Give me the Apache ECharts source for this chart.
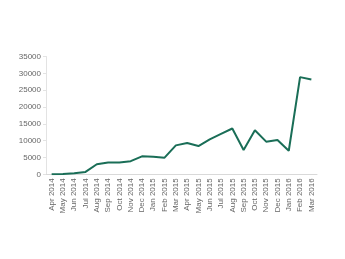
<!DOCTYPE html>
<html><head><meta charset="utf-8">
<script src="https://cdn.jsdelivr.net/npm/echarts@6/dist/echarts.min.js"></script>
<style>html,body{margin:0;padding:0;background:#fff}#c{width:345px;height:259px}</style>
</head><body><div id="c"></div>
<script>
const categories = ["Apr 2014","May 2014","Jun 2014","Jul 2014","Aug 2014","Sep 2014","Oct 2014","Nov 2014","Dec 2014","Jan 2015","Feb 2015","Mar 2015","Apr 2015","May 2015","Jun 2015","Jul 2015","Aug 2015","Sep 2015","Oct 2015","Nov 2015","Dec 2015","Jan 2016","Feb 2016","Mar 2016"];
const values = [50,100,300,700,3000,3500,3500,3900,5350,5250,4950,8600,9300,8400,10400,12000,13600,7200,13100,9700,10200,7000,28870,28150];
const yTicks = [0,5000,10000,15000,20000,25000,30000,35000];
const chart = echarts.init(document.getElementById('c'), null, {renderer:'canvas'});
chart.setOption({
  animation:false,
  grid:{left:46,right:28,top:56.5,bottom:84.7},
  xAxis:{type:'category',data:categories,boundaryGap:true,
    axisLine:{lineStyle:{color:'#d9d9d9'}},
    axisTick:{lineStyle:{color:'#d9d9d9'},length:3},
    axisLabel:{rotate:90,color:'#666666',fontSize:8,margin:4,interval:0,fontFamily:'Liberation Sans'}},
  yAxis:{type:'value',min:yTicks[0],max:yTicks[yTicks.length-1],interval:5000,
    axisLine:{show:true,lineStyle:{color:'#e3e3e3'}},
    axisTick:{show:true,lineStyle:{color:'#e3e3e3'},length:3},
    splitLine:{show:false},
    axisLabel:{color:'#666666',fontSize:8,margin:5,fontFamily:'Liberation Sans',formatter:v=>String(v)}},
  series:[{type:'line',data:values,symbol:'none',lineStyle:{color:'#1a6e57',width:2}}]
});
</script></body></html>
